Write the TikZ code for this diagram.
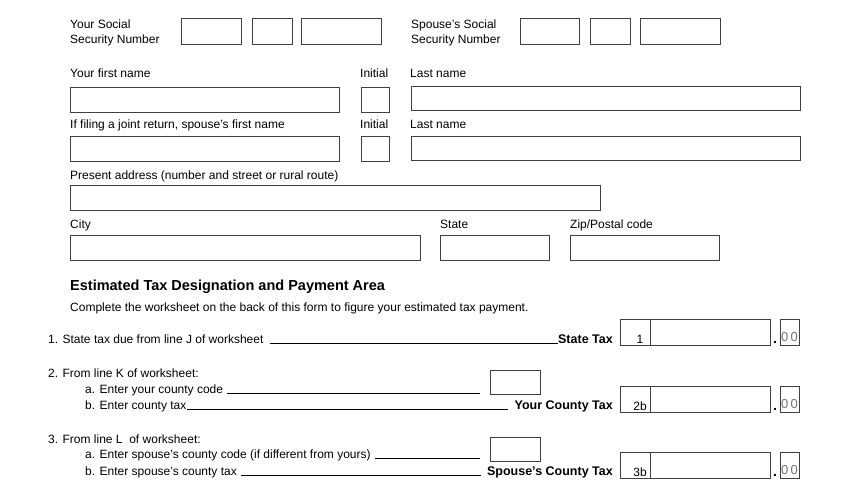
\documentclass[tikz,border=0pt]{standalone}
\usepackage{fontspec}
\setmainfont{Liberation Sans}
\usetikzlibrary{positioning}
\tikzset{
  fbox/.style={draw=black!75, line width=0.8pt},
  lbl/.style={anchor=base west, inner sep=0pt, font=\fontsize{12}{14.5}\selectfont},
  blbl/.style={lbl, font=\fontsize{12.5}{14}\selectfont\bfseries},
  fill/.style={line width=0.6pt}
}
\begin{document}
\begin{tikzpicture}[x=1pt, y=-1pt]
    \useasboundingbox (0,0) rectangle (850,485);

    % Social security numbers
    \node[lbl, align=left] (ssnA) at (70,43) {Your Social\\Security Number};
    \node[lbl, align=left] (ssnB) at (411,43) {Spouse’s Social\\Security Number};
    \foreach \xa/\xb in {181/241, 252/292, 301/381, 520/579, 590/630, 640/720} {
        \draw[fbox] (\xa,18) rectangle (\xb,44);
    }

    % Names
    \node[lbl] (first) at (70,77) {Your first name};
    \node[lbl] (init) at (360,77) {Initial};
    \node[lbl] (last) at (410,77) {Last name};
    \draw[fbox] (70,87) rectangle (339,112);
    \draw[fbox] (361,87) rectangle (389,112);
    \draw[fbox] (411,86) rectangle (800,110);

    \node[lbl] (sfirst) at (70,128) {If filing a joint return, spouse’s first name};
    \node[lbl] (sinit) at (360,128) {Initial};
    \node[lbl] (slast) at (410,128) {Last name};
    \draw[fbox] (70,136) rectangle (339,161);
    \draw[fbox] (361,136) rectangle (389,161);
    \draw[fbox] (411,136) rectangle (800,160);

    % Address
    \node[lbl] (addr) at (70,179) {Present address (number and street or rural route)};
    \draw[fbox] (70,185) rectangle (600,210);
    \node[lbl] (city) at (70,228) {City};
    \node[lbl] (state) at (440,228) {State};
    \node[lbl] (zip) at (570,228) {Zip/Postal code};
    \draw[fbox] (70,235) rectangle (420,260);
    \draw[fbox] (440,235) rectangle (549,260);
    \draw[fbox] (570,235) rectangle (719,260);

    % Payment area
    \node[lbl, font=\fontsize{14.5}{18}\selectfont\bfseries] (head) at (70,290) {Estimated Tax Designation and Payment Area};
    \node[lbl] (intro) at (70,311) {Complete the worksheet on the back of this form to figure your estimated tax payment.};

    \node[lbl] (l1) at (48,343) {1. State tax due from line J of worksheet};
    \node[blbl, anchor=base east] (t1) at (613,343) {State Tax};
    \draw[fill] ([xshift=6pt]l1.base east) -- (t1.base west);

    \node[lbl] (l2) at (48,377) {2. From line K of worksheet:};
    \node[lbl] (l2a) at (85,393) {a. Enter your county code};
    \draw[fill] ([xshift=4pt]l2a.base east) -- (480,393);
    \node[lbl] (l2b) at (85,409) {b. Enter county tax};
    \node[blbl, anchor=base east] (t2) at (613,409) {Your County Tax};
    \draw[fill] (l2b.base east) -- ([xshift=-6pt]t2.base west);
    \draw[fbox] (490,370) rectangle (540,394);

    \node[lbl] (l3) at (48,443) {3. From line L\ \ of worksheet:};
    \node[lbl] (l3a) at (85,458) {a. Enter spouse’s county code (if different from yours)};
    \draw[fill] ([xshift=4pt]l3a.base east) -- (480,458);
    \node[lbl] (l3b) at (85,475) {b. Enter spouse’s county tax};
    \node[blbl, anchor=base east] (t3) at (613,475) {Spouse’s County Tax};
    \draw[fill] ([xshift=4pt]l3b.base east) -- ([xshift=-6pt]t3.base west);
    \draw[fbox] (490,437) rectangle (540,461);

    % Amount boxes
    \foreach \y/\n in {319/1, 386/2b, 452/3b} {
        \draw[fbox] (620,\y) rectangle (770,\y+26);
        \draw[fbox] (650,\y) -- (650,\y+26);
        \node[lbl, anchor=base] at (640,\y+24) {\n};
        \node[lbl, anchor=base, font=\fontsize{14}{14}\selectfont\bfseries] at (775,\y+24) {.};
        \draw[fbox] (780,\y) rectangle (799,\y+26);
        \node[lbl, anchor=base, text=black!55, font=\fontsize{13}{13}\selectfont] at (789.5,\y+22) {0\,0};
    }
\end{tikzpicture}
\end{document}
